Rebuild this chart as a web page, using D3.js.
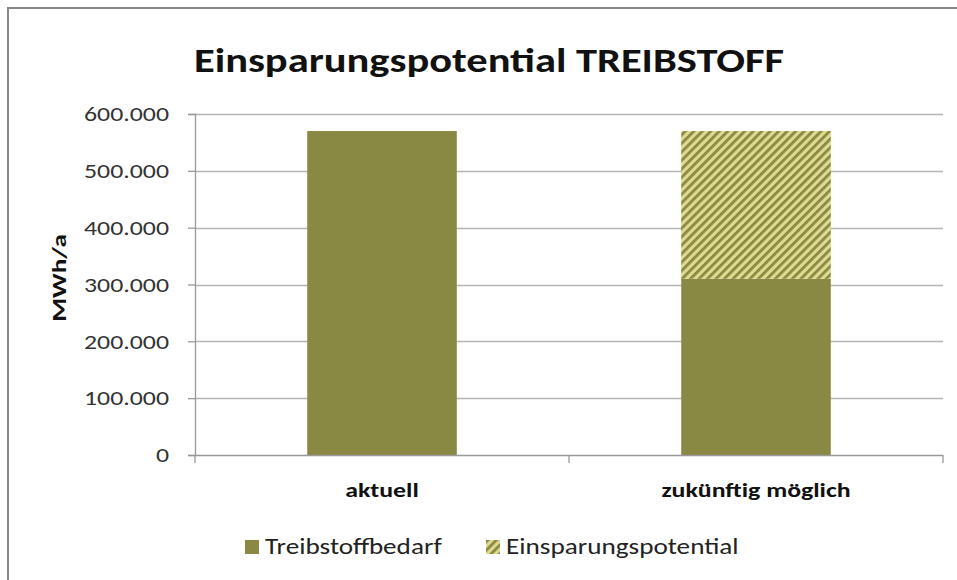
<!DOCTYPE html>
<html>
<head>
<meta charset="utf-8">
<script src="https://cdn.jsdelivr.net/npm/d3@7/dist/d3.min.js"></script>
<style>
  html, body { margin: 0; padding: 0; background: #fff; }
  svg { display: block; }
  text { font-family: Carlito, Calibri, Lato, "Open Sans", sans-serif; }
</style>
</head>
<body>
<svg id="chart" width="957" height="580"></svg>
<script>
// Chart data
const categories = ["aktuell", "zukünftig möglich"];
const seriesNames = ["Treibstoffbedarf", "Einsparungspotential"];
const treibstoffbedarf = [570000, 310000];
const einsparungspotential = [0, 260000];
const yTicks = [0, 100000, 200000, 300000, 400000, 500000, 600000];

const svg = d3.select("#chart");
const W = 957, H = 580;

const solidColor = "#8a8944";
const hatchBg = "#dedb8f";
const hatchLine = "#8a8944";

// Horizontal widening applied to the text (wide, Calibri-like lettering)
const SX = 1.23;
function stretch(sel, sx) {
  sel.each(function () {
    const t = d3.select(this);
    const tx = +t.attr("x") || 0;
    const ty = +t.attr("y") || 0;
    t.attr("x", 0).attr("y", 0)
     .attr("transform", `translate(${tx},${ty}) scale(${sx},1)`);
  });
}

// Diagonal hatch for the savings part
const defs = svg.append("defs");
const pat = defs.append("pattern")
  .attr("id", "hatch")
  .attr("patternUnits", "userSpaceOnUse")
  .attr("width", 6).attr("height", 6)
  .attr("patternTransform", "rotate(45)");
pat.append("rect").attr("width", 6).attr("height", 6).attr("fill", hatchBg);
pat.append("rect").attr("x", 0).attr("y", 0).attr("width", 2.8).attr("height", 6).attr("fill", hatchLine);

// Outer frame (open at right/bottom)
svg.append("rect")
  .attr("x", 8).attr("y", 8)
  .attr("width", W + 10).attr("height", H + 10)
  .attr("fill", "#fff")
  .attr("stroke", "#888").attr("stroke-width", 2);

const plot = { left: 195, right: 943, top: 114, bottom: 455 };

const x = d3.scaleBand()
  .domain(categories)
  .range([plot.left, plot.right])
  .paddingInner(0.6)
  .paddingOuter(0.3);

const y = d3.scaleLinear()
  .domain([0, 600000])
  .range([plot.bottom, plot.top]);

const fmt = v => v === 0 ? "0" : d3.format(",")(v).replace(/,/g, ".");

// Gridlines
svg.append("g")
  .selectAll("line")
  .data(yTicks.filter(d => d > 0))
  .join("line")
  .attr("x1", plot.left).attr("x2", plot.right)
  .attr("y1", d => Math.round(y(d)) + 0.5)
  .attr("y2", d => Math.round(y(d)) + 0.5)
  .attr("stroke", "#b3b3b3").attr("stroke-width", 1.3);

// Stacked bars
const stackData = categories.map((c, i) => ({
  cat: c,
  Treibstoffbedarf: treibstoffbedarf[i],
  Einsparungspotential: einsparungspotential[i]
}));
const stack = d3.stack().keys(seriesNames)(stackData);
const fills = { "Treibstoffbedarf": solidColor, "Einsparungspotential": "url(#hatch)" };

svg.append("g")
  .selectAll("g")
  .data(stack)
  .join("g")
  .attr("fill", d => fills[d.key])
  .selectAll("rect")
  .data(d => d.filter(p => p[1] > p[0]))
  .join("rect")
  .attr("x", d => x(d.data.cat))
  .attr("width", x.bandwidth())
  .attr("y", d => y(d[1]))
  .attr("height", d => y(d[0]) - y(d[1]));

// Y axis
const yAxis = svg.append("g")
  .attr("transform", `translate(${plot.left},0)`)
  .call(d3.axisLeft(y).tickValues(yTicks).tickFormat(fmt).tickSize(7).tickPadding(19));
yAxis.select(".domain").attr("stroke", "#999").attr("stroke-width", 1.3);
yAxis.selectAll(".tick line").attr("stroke", "#999").attr("stroke-width", 1.3);
yAxis.selectAll(".tick text")
  .attr("font-size", 21).attr("fill", "#333")
  .style("font-family", "Carlito, Calibri, Lato, sans-serif")
  .call(stretch, SX);

// X axis with boundary ticks between categories
const xAxisG = svg.append("g").attr("transform", `translate(0,${plot.bottom})`);
xAxisG.append("line")
  .attr("x1", plot.left).attr("x2", plot.right)
  .attr("y1", 0.5).attr("y2", 0.5)
  .attr("stroke", "#999").attr("stroke-width", 1.3);
const boundaries = [plot.left, plot.left + (plot.right - plot.left) / 2, plot.right];
xAxisG.selectAll("line.b")
  .data(boundaries)
  .join("line")
  .attr("class", "b")
  .attr("x1", d => d).attr("x2", d => d)
  .attr("y1", 0).attr("y2", 8)
  .attr("stroke", "#999").attr("stroke-width", 1.3);
xAxisG.selectAll("text")
  .data(categories)
  .join("text")
  .attr("x", d => x(d) + x.bandwidth() / 2)
  .attr("y", 42)
  .attr("text-anchor", "middle")
  .attr("font-size", 21).attr("font-weight", "bold").attr("fill", "#111")
  .text(d => d)
  .call(stretch, SX);

// Y axis title
svg.append("text")
  .attr("transform", "translate(66,278) rotate(-90) scale(1.3,1)")
  .attr("text-anchor", "middle")
  .attr("font-size", 21).attr("font-weight", "bold").attr("fill", "#111")
  .text("MWh/a");

// Title
svg.append("text")
  .attr("x", 489).attr("y", 72)
  .attr("text-anchor", "middle")
  .attr("font-size", 34).attr("font-weight", "bold").attr("fill", "#111")
  .text("Einsparungspotential TREIBSTOFF")
  .call(stretch, 1.25);

// Legend
const legend = svg.append("g");
const legendX = [245, 486];
const items = legend.selectAll("g")
  .data(seriesNames)
  .join("g")
  .attr("transform", (d, i) => `translate(${legendX[i]},540)`);
items.append("rect")
  .attr("width", 14).attr("height", 14)
  .attr("fill", d => fills[d]);
items.append("text")
  .attr("x", 20).attr("y", 14)
  .attr("font-size", 21.5).attr("fill", "#222")
  .text(d => d)
  .call(stretch, 1.265);
</script>
</body>
</html>
